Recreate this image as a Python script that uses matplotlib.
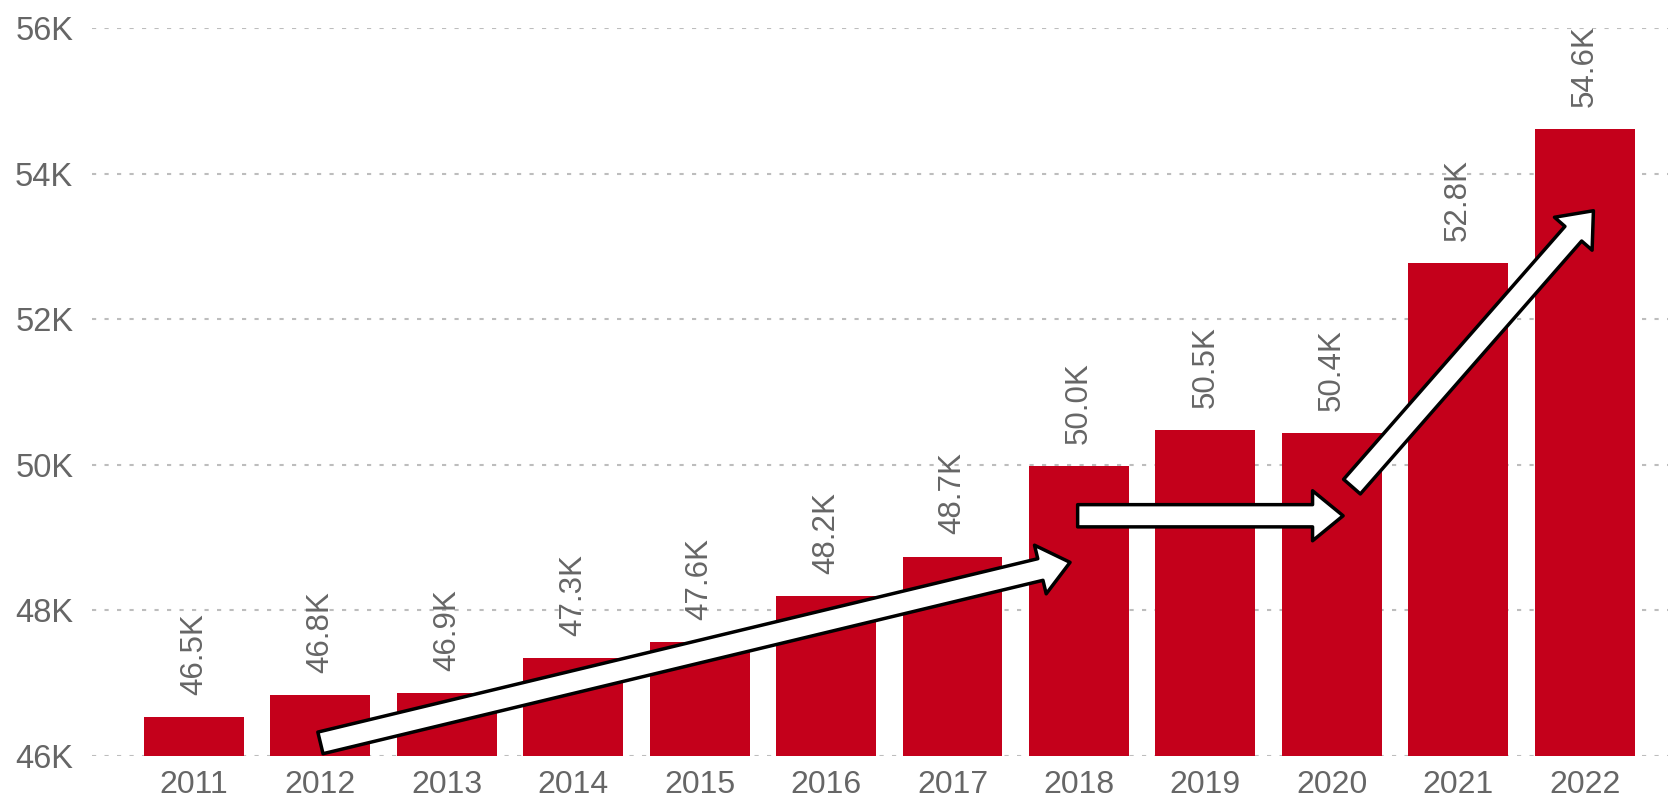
import matplotlib.pyplot as plt
from matplotlib.ticker import FuncFormatter

BAR   = "#C4001B"
GREY  = "#666666"
GRID  = "#BDBDBD"

years  = ["2011", "2012", "2013", "2014", "2015", "2016",
          "2017", "2018", "2019", "2020", "2021", "2022"]
values = [46530, 46840, 46860, 47340, 47560, 48200,
          48740, 49980, 50480, 50440, 52770, 54610]

# trend arrows: (tail x, tail y) -> (tip x, tip y), in bar-index / value units
arrows = [
    ((1.0, 46180), (6.93, 48660)),
    ((6.99, 49300), (9.09, 49300)),
    ((9.16, 49700), (11.07, 53490)),
]

plt.rcParams["font.family"] = ["Liberation Sans", "DejaVu Sans"]

fig = plt.figure(figsize=(16.68, 7.99), dpi=100)
ax = fig.add_axes([92 / 1668, 1 - 756 / 799, 1 - 92 / 1668, (756 - 28) / 799])

x = list(range(len(years)))
ax.bar(x, values, width=0.79, color=BAR, zorder=2)

for xi, v in zip(x, values):
    ax.annotate(f"{v / 1000:.1f}K", (xi, v), xytext=(0, 16), textcoords="offset points",
                rotation=90, ha="center", va="bottom", fontsize=22.5, color=GREY,
                annotation_clip=False)

for (x0, y0), (x1, y1) in arrows:
    ax.annotate("", xy=(x1, y1), xytext=(x0, y0),
                arrowprops=dict(arrowstyle="simple,head_length=22,head_width=36,tail_width=16",
                                mutation_scale=1, fc="white", ec="black", lw=2.5,
                                shrinkA=0, shrinkB=0),
                zorder=4)

ax.set_xlim(-0.807, 11.66)
ax.set_ylim(46000, 56000)
ax.set_xticks(x)
ax.set_xticklabels(years)
ax.set_yticks(range(46000, 56001, 2000))
ax.yaxis.set_major_formatter(FuncFormatter(lambda v, p: f"{v / 1000:.0f}K"))
ax.tick_params(axis="x", length=0, pad=10, labelsize=23, colors=GREY)
ax.tick_params(axis="y", length=0, pad=13.5, labelsize=23.5, colors=GREY)
ax.grid(axis="y", color=GRID, linestyle=(0, (2, 4)), lw=1.5, zorder=0)
ax.set_axisbelow(True)
for s in ax.spines.values():
    s.set_visible(False)

fig.savefig("out.png", dpi=100, facecolor="white")
